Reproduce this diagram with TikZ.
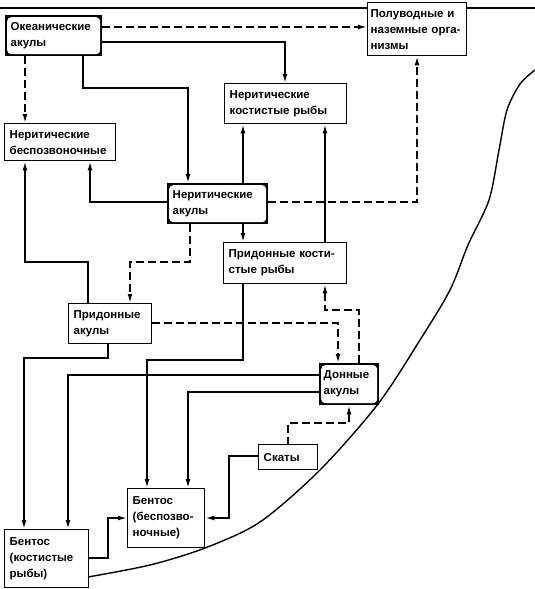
\documentclass[tikz,border=0pt]{standalone}
\usepackage{fontspec}
\setmainfont{Liberation Sans}
\usetikzlibrary{arrows.meta}

\tikzset{
  box/.style={draw, line width=1.4pt, anchor=north west, align=left,
    inner xsep=5pt, inner ysep=2pt, text width=#1,
    font=\bfseries\fontsize{11.5}{16}\selectfont},
  sharkbox/.style={box=#1, fill=black,
    path picture={\fill[white, rounded corners=4pt]
      ([shift={(1.5pt,-1.5pt)}]path picture bounding box.north west) rectangle
      ([shift={(-1.5pt,1.5pt)}]path picture bounding box.south east);}},
  link/.style={line width=1.6pt, -{Latex[length=9pt,width=5pt]}},
  dlink/.style={link, dash pattern=on 8pt off 4pt},
}

\begin{document}
\begin{tikzpicture}[x=1pt, y=-1pt]
   \useasboundingbox (0,0) rectangle (535,589);

   % группы организмов
   \node[sharkbox=86pt, minimum height=40pt] (oceanic) at (5,15) {Океанические\\акулы};
   \node[box=93pt, inner xsep=3pt, minimum height=53pt] (semiaq) at (367,2) {Полуводные и\\наземные орга-\\низмы};
   \node[box=101pt, minimum height=37pt] (nerinv) at (4,123) {Неритические\\беспозвоночные};
   \node[box=112pt, minimum height=40pt] (nerfish) at (224,83) {Неритические\\костистые рыбы};
   \node[sharkbox=90pt, minimum height=40pt] (nershark) at (167,183) {Неритические\\акулы};
   \node[box=113pt, minimum height=41pt] (demfish) at (223,242) {Придонные кости-\\стые рыбы};
   \node[box=73pt, minimum height=40pt] (demshark) at (68,303) {Придонные\\акулы};
   \node[sharkbox=51pt, inner xsep=4pt, minimum height=41pt] (botshark) at (319,363) {Донные\\акулы};
   \node[box=49pt, minimum height=25pt] (rays) at (258,444) {Скаты};
   \node[box=67pt, minimum height=59pt] (bentinv) at (127,488) {Бентос\\(беспозво-\\ночные)};
   \node[box=74pt, minimum height=58pt] (bentfish) at (4,529) {Бентос\\(костистые\\рыбы)};

   % поверхность и дно
   \draw[line width=1.2pt] (0,8) -- (semiaq.west |- 0,8);
   \draw[line width=1.2pt] (semiaq.east |- 0,8) -- (535,8);
   \draw[line width=1.4pt] plot[smooth] coordinates {(535,70) (520,84) (507,110) (499,150)
      (489,200) (468,245) (450,290) (420,340) (378,404) (320,470) (260,522) (205,548)
      (150,565) (88,577)};

   % от океанических акул
   \draw[dlink] (oceanic.east |- 0,27) -- (semiaq.west |- 0,27);
   \draw[link] (oceanic.east |- 0,42) -| (285,0 |- nerfish.north);
   \draw[dlink] (25,0 |- oceanic.south) -- (25,0 |- nerinv.north);
   \draw[link] (83,0 |- oceanic.south) -- (83,88) -| (188,0 |- nershark.north);

   % от неритических акул
   \draw[link] (nershark.west |- 0,202) -| (90,0 |- nerinv.south);
   \draw[link] (243,0 |- nershark.north) -- (243,0 |- nerfish.south);
   \draw[link] (243,0 |- nershark.south) -- (243,0 |- demfish.north);
   \draw[dlink] (nershark.east |- 0,202) -| (417,0 |- semiaq.south);
   \draw[dlink] (190,0 |- nershark.south) -- (190,262) -| (130,0 |- demshark.north);
   \draw[link, {Latex[length=9pt,width=5pt]}-] (325,0 |- nerfish.south) -- (325,0 |- demfish.north);

   % придонные
   \draw[link] (88,0 |- demshark.north) -- (88,262) -| (25,0 |- nerinv.south);
   \draw[dlink] (demshark.east |- 0,323) -| (338,0 |- botshark.north);
   \draw[dlink, {Latex[length=9pt,width=5pt]}-] (325,0 |- demfish.south) -- (325,310) -| (359,0 |- botshark.north);
   \draw[link] (108,0 |- demshark.south) -- (108,358) -| (24,0 |- bentfish.north);
   \draw[link] (243,0 |- demfish.south) -- (243,360) -| (147,0 |- bentinv.north);

   % донные акулы, скаты и бентос
   \draw[link] (botshark.west |- 0,375) -| (68,0 |- bentfish.north);
   \draw[link] (botshark.west |- 0,392) -| (188,0 |- bentinv.north);
   \draw[dlink, {Latex[length=9pt,width=5pt]}-] (349,0 |- botshark.south) -- (349,423) -| (288,0 |- rays.north);
   \draw[link] (rays.west |- 0,456) -- (229,456) |- (bentinv.east |- 0,518);
   \draw[link] (bentfish.east |- 0,558) -- (108,558) |- (bentinv.west |- 0,518);
\end{tikzpicture}
\end{document}
